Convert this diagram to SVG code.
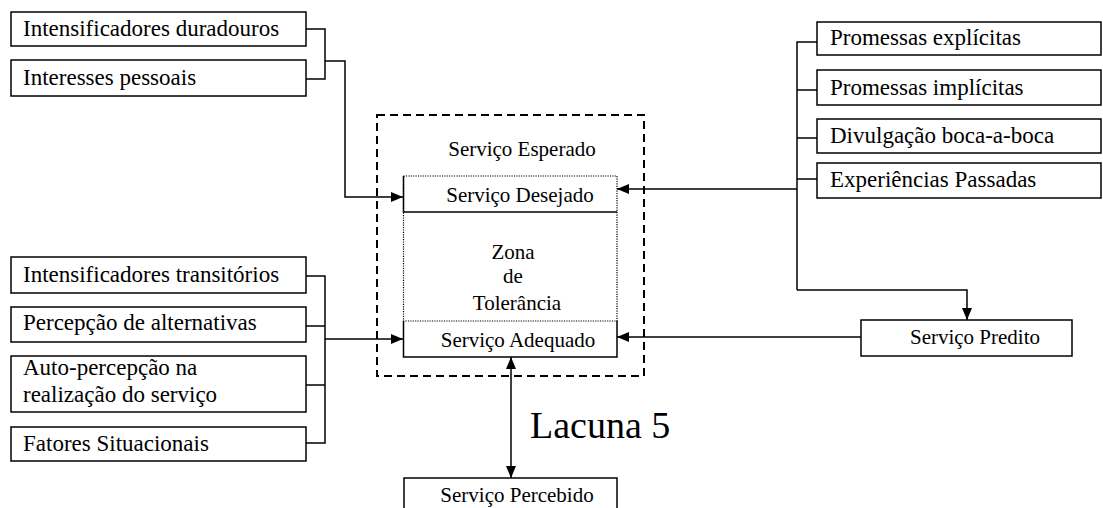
<svg xmlns="http://www.w3.org/2000/svg" width="1103" height="508" viewBox="0 0 1103 508">
  <style>
    .t, .c, .big { font-family: "Liberation Serif", Tinos, "Nimbus Roman", "Nimbus Roman No9 L", "Times New Roman", Times, "DejaVu Serif", "Noto Serif", serif; fill: #000; }
    .box { fill: #fff; stroke: #000; stroke-width: 1.5; }
    .t { font-size: 23px; }
    .c { font-size: 21px; text-anchor: middle; }
    .big { font-size: 38px; }
    .ln { fill: none; stroke: #000; stroke-width: 1.5; }
    .arr { fill: none; stroke: #000; stroke-width: 1.5; marker-end: url(#ah); }
    .dot { fill: none; stroke: #000; stroke-width: 1.2; stroke-dasharray: 1.2 1.2; }
    .dash { fill: none; stroke: #000; stroke-width: 2; stroke-dasharray: 8 5; }
  </style>
  <defs>
    <marker id="ah" viewBox="0 0 12 10" refX="12" refY="5" markerWidth="12" markerHeight="10" markerUnits="userSpaceOnUse" orient="auto-start-reverse">
      <path d="M0,0 L12,5 L0,10 Z" fill="#000"/>
    </marker>
  </defs>

  <!-- left upper factors -->
  <g id="intensificadores-duradouros">
    <rect class="box" x="11" y="12" width="295" height="34"/>
    <text class="t" x="23" y="36">Intensificadores duradouros</text>
  </g>
  <g id="interesses-pessoais">
    <rect class="box" x="11" y="60" width="295" height="36"/>
    <text class="t" x="23" y="85">Interesses pessoais</text>
  </g>

  <!-- left lower factors -->
  <g id="intensificadores-transitorios">
    <rect class="box" x="11" y="257" width="295" height="36"/>
    <text class="t" x="23" y="282">Intensificadores transitórios</text>
  </g>
  <g id="percepcao-alternativas">
    <rect class="box" x="11" y="307" width="295" height="35"/>
    <text class="t" x="23" y="330">Percepção de alternativas</text>
  </g>
  <g id="auto-percepcao">
    <rect class="box" x="11" y="356" width="295" height="56"/>
    <text class="t" x="23" y="375">Auto-percepção na</text>
    <text class="t" x="23" y="402">realização do serviço</text>
  </g>
  <g id="fatores-situacionais">
    <rect class="box" x="11" y="427" width="295" height="34"/>
    <text class="t" x="23" y="451">Fatores Situacionais</text>
  </g>

  <!-- right factors -->
  <g id="promessas-explicitas">
    <rect class="box" x="817" y="22" width="284" height="33"/>
    <text class="t" x="830" y="45">Promessas explícitas</text>
  </g>
  <g id="promessas-implicitas">
    <rect class="box" x="817" y="70" width="284" height="35"/>
    <text class="t" x="830" y="95">Promessas implícitas</text>
  </g>
  <g id="divulgacao">
    <rect class="box" x="817" y="119" width="284" height="34"/>
    <text class="t" x="830" y="143">Divulgação boca-a-boca</text>
  </g>
  <g id="experiencias">
    <rect class="box" x="817" y="163" width="284" height="35"/>
    <text class="t" x="830" y="187">Experiências Passadas</text>
  </g>

  <!-- expected service -->
  <g id="servico-esperado">
    <rect class="dash" x="377" y="115" width="267" height="261"/>
    <text class="c" x="522" y="156">Serviço Esperado</text>
  </g>
  <g id="zona-tolerancia">
    <rect class="dot" x="403.5" y="176" width="213.5" height="145"/>
    <text class="c" x="513" y="259">Zona</text>
    <text class="c" x="513" y="283">de</text>
    <text class="c" x="517" y="310">Tolerância</text>
  </g>
  <g id="servico-desejado">
    <path class="ln" d="M403.5,176 V212 H617"/>
    <text class="c" x="520" y="202">Serviço Desejado</text>
  </g>
  <g id="servico-adequado">
    <path class="ln" d="M403.5,321 V357 H617 V321"/>
    <text class="c" x="518" y="347">Serviço Adequado</text>
  </g>

  <g id="servico-predito">
    <rect class="box" x="861" y="320" width="211" height="36"/>
    <text class="c" x="975" y="344">Serviço Predito</text>
  </g>
  <g id="servico-percebido">
    <rect class="box" x="404" y="478" width="213" height="40"/>
    <text class="c" x="517" y="502">Serviço Percebido</text>
  </g>

  <text class="big" x="530" y="438">Lacuna 5</text>

  <!-- connectors -->
  <g id="connectors">
    <path class="ln" d="M306,29 H325 V79 H306"/>
    <path class="arr" d="M325,61 H345 V197 H403"/>

    <path class="ln" d="M306,276 H325 V443 H306 M306,326 H325 M306,385 H325"/>
    <path class="arr" d="M325,339 H403"/>

    <path class="ln" d="M817,42 H797 V290 M797,90 H817 M797,138 H817 M797,179 H817"/>
    <path class="arr" d="M797,189 H617"/>
    <path class="arr" d="M797,290 H967 V320"/>
    <path class="arr" d="M861,337 H617"/>

    <path class="arr" d="M511,420 V357"/>
    <path class="arr" d="M511,420 V478"/>
  </g>
</svg>
